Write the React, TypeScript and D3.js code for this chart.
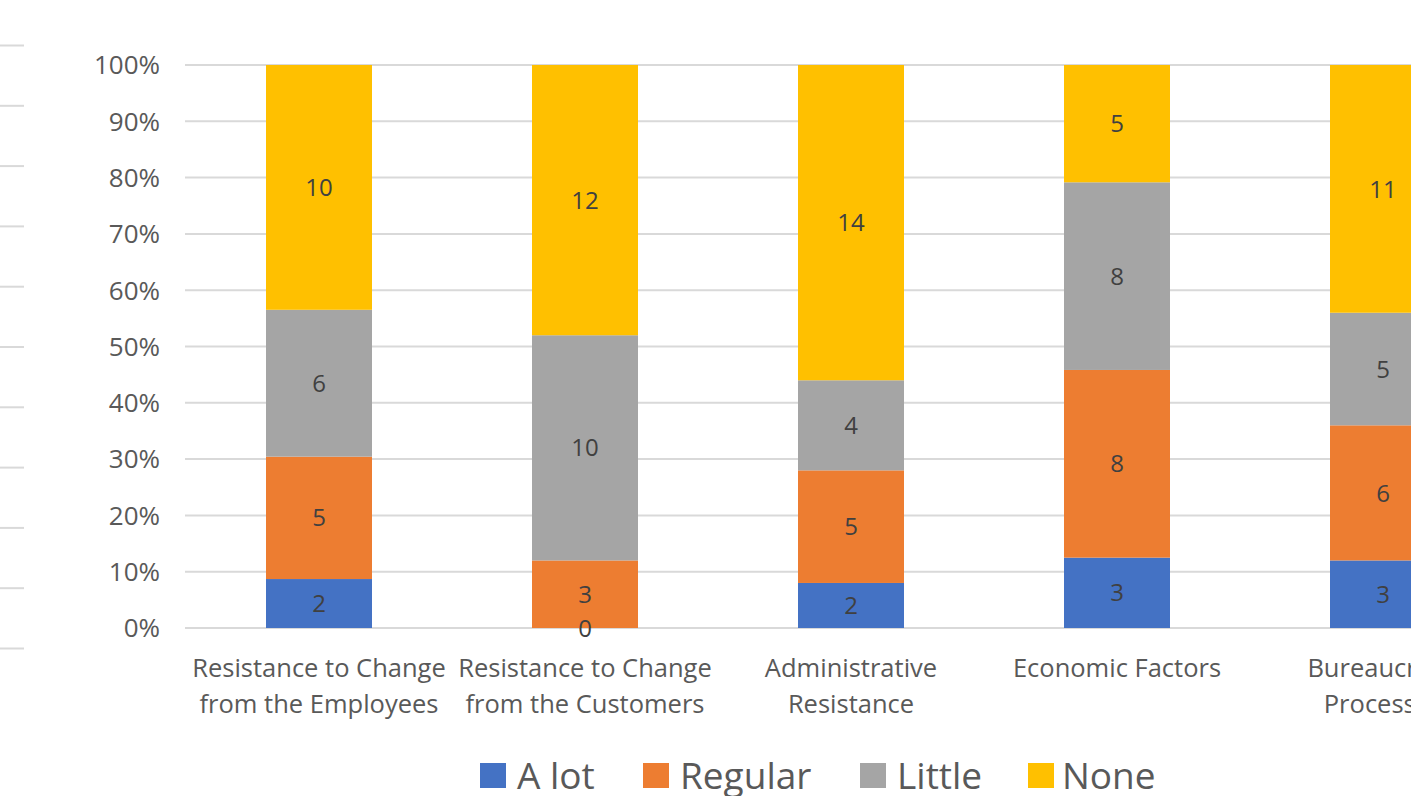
import React from "react";
import * as d3 from "d3";

const categories: string[][] = [
  ["Resistance to Change", "from the Employees"],
  ["Resistance to Change", "from the Customers"],
  ["Administrative", "Resistance"],
  ["Economic Factors"],
  ["Bureaucratic", "Processes"],
];
const seriesNames = ["A lot", "Regular", "Little", "None"];
const seriesColors = ["#4472C4", "#ED7D31", "#A5A5A5", "#FFC000"];
const aLot = [2, 0, 2, 3, 3];
const regular = [5, 3, 5, 8, 6];
const little = [6, 10, 4, 8, 5];
const none = [10, 12, 14, 5, 11];
const yTicks = [0, 0.1, 0.2, 0.3, 0.4, 0.5, 0.6, 0.7, 0.8, 0.9, 1];

const W = 1411;
const H = 796;
const FONT = "'Open Sans', Lato, sans-serif";
const TXT = "#595959";

export default function App() {
  const series = [aLot, regular, little, none];
  const keys = categories.map((_, i) => i);
  const y = d3.scaleLinear().domain([0, 1]).range([628, 65]);

  const rows = keys.map((i) => {
    const r: any = { i };
    seriesNames.forEach((s, k) => (r[s] = series[k][i]));
    return r;
  });
  const stacked = d3
    .stack<any>()
    .keys(seriesNames)
    .offset(d3.stackOffsetExpand)(rows);

  const band = d3
    .scaleBand<number>()
    .domain(keys)
    .range([186, 186 + 266 * keys.length])
    .padding(0);
  const barW = 106;
  const cx = (i: number) => (band(i) as number) + band.bandwidth() / 2;

  const stubYs = d3.range(11).map((k) => 45.5 + k * 60.3);

  const legendItems = [
    { sq: 480, tx: 517 },
    { sq: 643, tx: 680 },
    { sq: 860, tx: 897 },
    { sq: 1028, tx: 1062 },
  ];

  return (
    <svg
      width={W}
      height={H}
      style={{ position: "absolute", left: 0, top: 0, background: "#fff" }}
      fontFamily={FONT}
    >
      <rect x={0} y={0} width={W} height={H} fill="#fff" />
      {stubYs.map((sy, k) => (
        <line key={k} x1={0} x2={24} y1={sy} y2={sy} stroke="#d9d9d9" strokeWidth={2} />
      ))}
      {yTicks.map((t) => (
        <g key={t}>
          <line x1={185} x2={W} y1={y(t)} y2={y(t)} stroke="#d9d9d9" strokeWidth={2} />
          <text
            x={160}
            y={y(t)}
            dy="0.36em"
            textAnchor="end"
            fontSize={26}
            fill={TXT}
          >
            {d3.format(".0%")(t)}
          </text>
        </g>
      ))}
      {stacked.map((layer, k) => (
        <g key={layer.key}>
          {layer.map((d, i) => (
            <rect
              key={i}
              x={cx(i) - barW / 2}
              width={barW}
              y={y(d[1])}
              height={Math.max(0, y(d[0]) - y(d[1]))}
              fill={seriesColors[k]}
            />
          ))}
        </g>
      ))}
      {stacked.map((layer, k) => (
        <g key={"l" + layer.key}>
          {layer.map((d, i) => (
            <text
              key={i}
              x={cx(i)}
              y={(y(d[0]) + y(d[1])) / 2}
              dy="0.36em"
              textAnchor="middle"
              fontSize={24}
              fill="#404040"
            >
              {series[k][i]}
            </text>
          ))}
        </g>
      ))}
      {categories.map((lines, i) => (
        <text key={i} x={cx(i)} textAnchor="middle" fontSize={25.5} fill={TXT}>
          {lines.map((ln, j) => (
            <tspan key={j} x={cx(i)} y={677 + j * 36}>
              {ln}
            </tspan>
          ))}
        </text>
      ))}
      {seriesNames.map((s, k) => (
        <g key={s}>
          <rect x={legendItems[k].sq} y={763} width={26} height={25} fill={seriesColors[k]} />
          <text x={legendItems[k].tx} y={789} fontSize={37} fill={TXT}>
            {s}
          </text>
        </g>
      ))}
    </svg>
  );
}
